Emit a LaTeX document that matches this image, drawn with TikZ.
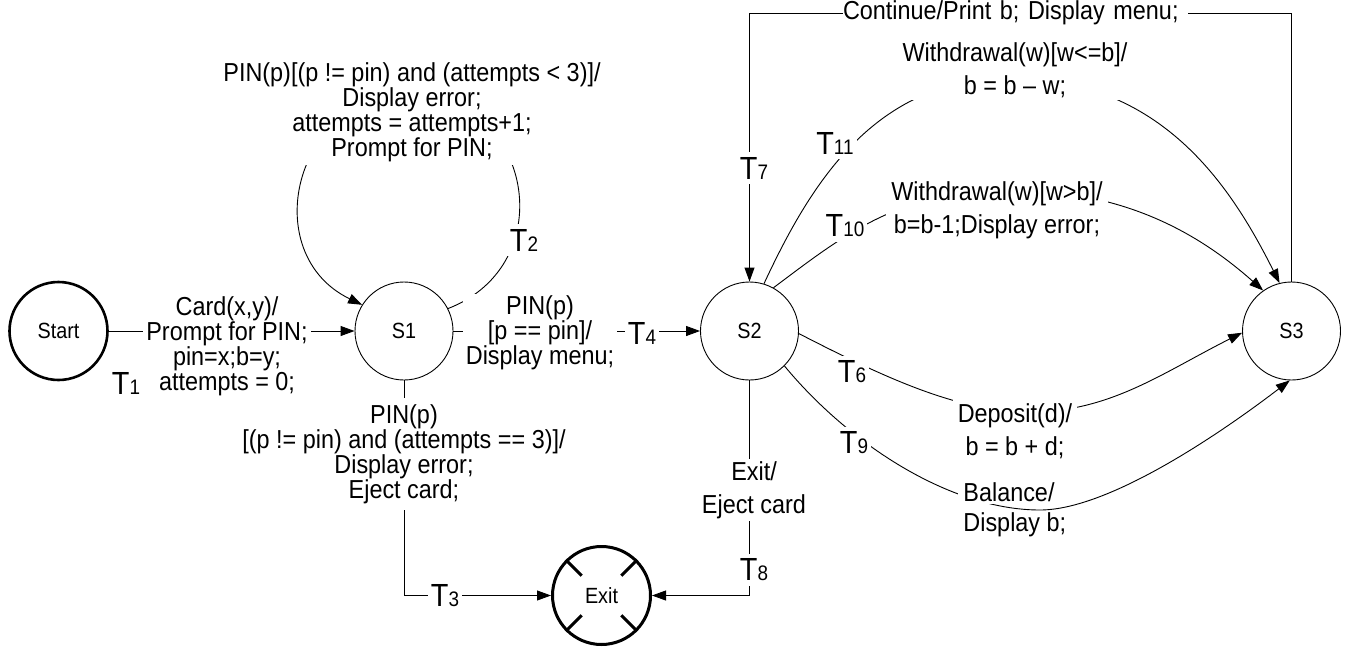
\documentclass[tikz,border=0pt]{standalone}
\usepackage{fontspec}
\setmainfont{Liberation Sans}[FakeStretch=0.9]
\usetikzlibrary{arrows.meta}

\newcommand{\tlab}[1]{{\fontsize{32pt}{32pt}\selectfont T}{\fontsize{21pt}{21pt}\selectfont #1}}

\tikzset{
  state/.style={circle, draw, line width=0.9pt, minimum size=98pt, inner sep=0pt,
    font=\fontsize{22pt}{22pt}\selectfont},
  endstate/.style={state, line width=2.6pt},
  lbl/.style={fill=white, align=center, inner xsep=3pt, inner ysep=2pt,
    font=\fontsize{26pt}{25pt}\selectfont},
  rlbl/.style={lbl, inner xsep=5pt, font=\fontsize{26pt}{33pt}\selectfont},
  tlbl/.style={fill=white, inner xsep=3pt, inner ysep=5pt},
}

\begin{document}
\begin{tikzpicture}[x=1pt, y=-1pt, line width=0.9pt, >={Triangle[length=14pt,width=10pt]}]
  \useasboundingbox (0,0) rectangle (1347,648);

  % states
  \node[endstate] (start) at (58.5,331) {Start};
  \node[state] (s1) at (404,331) {S1};
  \node[state] (s2) at (749.5,331) {S2};
  \node[state] (s3) at (1291.5,331) {S3};
  \node[endstate, line width=3pt] (exit) at (601.5,595.5) {Exit};
  \foreach \a in {45,135,225,315}
    \draw[line width=3pt] ([shift={(\a:28pt)}]exit.center) -- (exit.\a);

  \coordinate (topy) at (0,13);

  % transitions
  \draw[->] (start) -- (s1);
  \draw[->] (s1.27) .. controls (563,264) and (532,95) .. (410,95)
                    .. controls (293,95) and (257,254) .. (s1.148);
  \draw[->] (s1) |- (exit);
  \draw[->] (s1) -- (s2);
  \draw[->] (s2) |- (exit);
  \draw[->] (s3.north) -- (s3.north |- topy) -| (s2.north);
  \draw[->] (s2.73) .. controls (810,185) and (874,78) .. (1010,78)
                    .. controls (1160,78) and (1230,184) .. (s3.104);
  \draw[->] (s2.61) .. controls (845,234) and (900,190) .. (1010,190)
                    .. controls (1120,190) and (1195,230) .. (s3.125);
  \draw[->] (s2.-3) .. controls (889,380) and (960,412) .. (1030,412)
                    .. controls (1110,412) and (1162,373) .. (s3.182);
  \draw[->] (s2.-45) .. controls (849,444) and (950,510) .. (1040,510)
                     .. controls (1110,510) and (1225,430) .. (s3.-92);

  % labels
  \node[lbl] (l1) at (227,346) {Card(x,y)/\\Prompt for PIN;\\pin=x;b=y;\\attempts = 0;};
  \node[tlbl] (t1) at (126,383) {\tlab{1}};
  \node[lbl, inner ysep=3pt] (l2) at (412,112) {PIN(p)[(p != pin) and (attempts < 3)]/\\Display error;\\attempts = attempts+1;\\Prompt for PIN;};
  \node[tlbl] (t2) at (524,240) {\tlab{2}};
  \node[lbl, inner ysep=6pt] (l3) at (404,454) {PIN(p)\\{[}(p != pin) and (attempts == 3)]/\\Display error;\\Eject card;};
  \node[tlbl] (t3) at (445,596) {\tlab{3}};
  \node[lbl] (l4) at (540,333) {PIN(p)\\{[}p == pin]/\\Display menu;};
  \node[tlbl] (t4) at (642,333) {\tlab{4}};
  \node[rlbl, text width=345pt, align=left, inner xsep=0pt] (l7) at (1015.5,13) {Continue/Print b; Display menu;};
  \node[tlbl] (t7) at (754,168) {\tlab{7}};
  \node[rlbl] (l11) at (1015,70) {Withdrawal(w)[w<=b]/\\b = b – w;};
  \node[tlbl] (t11) at (835,143) {\tlab{11}};
  \node[rlbl] (l10) at (997,210) {Withdrawal(w)[w>b]/\\b=b-1;Display error;};
  \node[tlbl] (t10) at (845,226) {\tlab{10}};
  \node[rlbl, inner ysep=7pt] (l6) at (1015,431) {Deposit(d)/\\b = b + d;};
  \node[tlbl] (t6) at (852,372) {\tlab{6}};
  \node[tlbl] (t9) at (854,443) {\tlab{9}};
  \node[rlbl, anchor=west] (l9a) at (958,492) {Balance/};
  \node[rlbl, anchor=west] (l9b) at (958,525) {Display b;};
  \node[rlbl] (l8) at (754,490) {Exit/\\Eject card};
  \node[tlbl] (t8) at (754,570) {\tlab{8}};
\end{tikzpicture}
\end{document}
